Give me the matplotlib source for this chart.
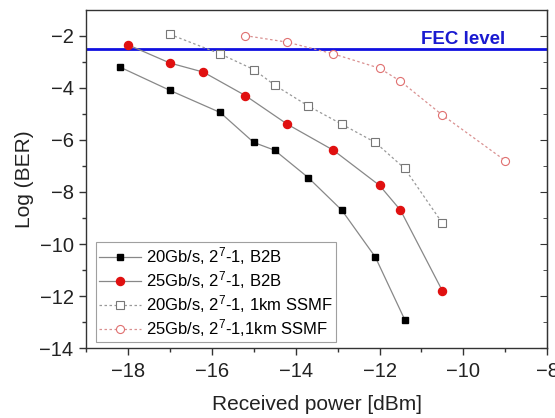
import matplotlib
matplotlib.use("Agg")
import matplotlib.pyplot as plt

plt.rcParams['font.family'] = ['Liberation Sans', 'DejaVu Sans']
plt.rcParams['mathtext.fontset'] = 'custom'
plt.rcParams['mathtext.rm'] = 'Liberation Sans'
plt.rcParams['mathtext.it'] = 'Liberation Sans'

x_b2b20 = [-18.2, -17.0, -15.8, -15.0, -14.5, -13.7, -12.9, -12.1, -11.4]
y_b2b20 = [-3.2, -4.1, -4.95, -6.1, -6.4, -7.45, -8.7, -10.5, -12.9]

x_b2b25 = [-18.0, -17.0, -16.2, -15.2, -14.2, -13.1, -12.0, -11.5, -10.5]
y_b2b25 = [-2.35, -3.05, -3.4, -4.3, -5.4, -6.4, -7.75, -8.7, -11.8]

x_km20 = [-17.0, -15.8, -15.0, -14.5, -13.7, -12.9, -12.1, -11.4, -10.5]
y_km20 = [-1.95, -2.7, -3.3, -3.9, -4.7, -5.4, -6.1, -7.1, -9.2]

x_km25 = [-15.2, -14.2, -13.1, -12.0, -11.5, -10.5, -9.0]
y_km25 = [-2.0, -2.25, -2.7, -3.25, -3.75, -5.05, -6.8]

fec_level = -2.5

labels = ['20Gb/s, 2$^{7}$-1, B2B',
          '25Gb/s, 2$^{7}$-1, B2B',
          '20Gb/s, 2$^{7}$-1, 1km SSMF',
          '25Gb/s, 2$^{7}$-1,1km SSMF']

fig = plt.figure(figsize=(5.55, 4.18), dpi=100)
ax = fig.add_axes([0.155, 0.167, 0.831, 0.810])

ax.axhline(fec_level, color='#1010e0', lw=2.0, zorder=1)
ax.text(-11.0, -2.15, 'FEC level', color='#1a1ad0', fontsize=13.5, fontweight='bold',
        ha='left', va='center')

ax.plot(x_b2b20, y_b2b20, color='#888888', lw=0.9, ls='-', marker='s', ms=4.8,
        mfc='black', mec='black', label=labels[0], zorder=3)
ax.plot(x_b2b25, y_b2b25, color='#888888', lw=0.9, ls='-', marker='o', ms=5.8,
        mfc='#e01010', mec='#e01010', label=labels[1], zorder=3)
ax.plot(x_km20, y_km20, color='#999999', lw=0.9, ls=(0, (2, 2)), marker='s', ms=5.2,
        mfc='white', mec='#777777', mew=0.8, label=labels[2], zorder=3)
ax.plot(x_km25, y_km25, color='#d99090', lw=0.9, ls=(0, (2, 2)), marker='o', ms=5.8,
        mfc='white', mec='#e07070', mew=0.8, label=labels[3], zorder=3)

ax.set_xlim(-19, -8)
ax.set_ylim(-14, -1)
ax.set_xticks([-18, -16, -14, -12, -10, -8])
ax.set_xticks([-19, -17, -15, -13, -11, -9], minor=True)
ax.set_yticks([-14, -12, -10, -8, -6, -4, -2])
ax.set_yticks([-13, -11, -9, -7, -5, -3], minor=True)
ax.tick_params(axis='both', which='major', direction='out', length=5, width=1,
               labelsize=14.5, color='#333333', labelcolor='#222222')
ax.tick_params(axis='x', which='major', pad=5)
ax.tick_params(axis='y', which='major', pad=4)
ax.tick_params(axis='both', which='minor', direction='out', length=3, width=1,
               color='#333333')
for s in ax.spines.values():
    s.set_color('#333333')
    s.set_linewidth(1.0)

sec = ax.secondary_yaxis('right')
sec.set_yticks([-14, -12, -10, -8, -6, -4, -2])
sec.set_yticks([-13, -11, -9, -7, -5, -3], minor=True)
sec.tick_params(which='major', direction='in', length=5, labelright=False, color='#333333')
sec.tick_params(which='minor', direction='in', length=3, labelright=False, color='#333333')
sec.spines['right'].set_color('#333333')

ax.set_xlabel('Received power [dBm]', fontsize=15, color='#222222', labelpad=10)
ax.set_ylabel('Log (BER)', fontsize=15, color='#222222', labelpad=4)

leg = ax.legend(loc='lower left', fontsize=12, frameon=True, fancybox=False,
                edgecolor='#888888', handlelength=2.5, handletextpad=0.3,
                borderpad=0.2, labelspacing=0.12, borderaxespad=0.35,
                bbox_to_anchor=(0.008, 0.0))
leg.get_frame().set_linewidth(0.8)

fig.savefig('out.png', dpi=100)
